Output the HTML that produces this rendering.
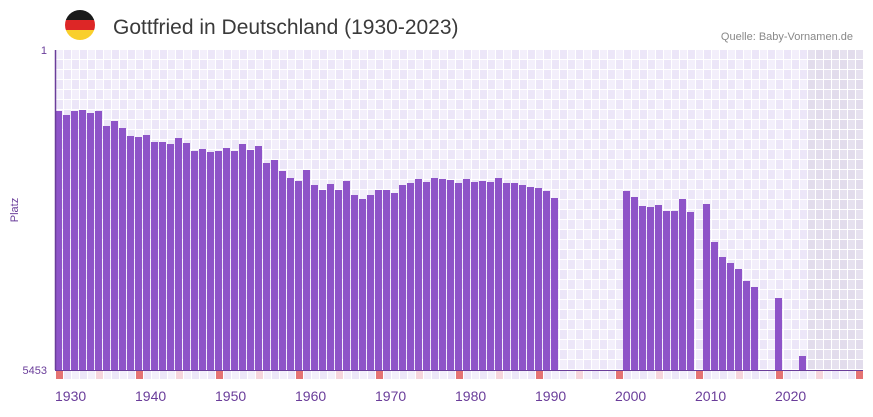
<!DOCTYPE html>
<html><head><meta charset="utf-8"><style>
body{margin:0;background:#fff;width:873px;height:412px;overflow:hidden;font-family:"Liberation Sans",sans-serif}
</style></head><body>
<svg id="s" width="873" height="412" xmlns="http://www.w3.org/2000/svg">
<defs>
<clipPath id="c"><circle cx="80" cy="25" r="15"/></clipPath>
</defs>
<g clip-path="url(#c)">
<rect x="65" y="10" width="30" height="10" fill="#1a1a1a"/>
<rect x="65" y="20" width="30" height="10" fill="#dd2626"/>
<rect x="65" y="30" width="30" height="10" fill="#f9cf2c"/>
</g>
<text x="113" y="34" font-size="21" fill="#3a3a3a">Gottfried in Deutschland (1930-2023)</text>
<text x="853" y="40" font-size="11" fill="#888" text-anchor="end">Quelle: Baby-Vornamen.de</text>
<text x="47" y="54" font-size="11" fill="#6a3d9a" text-anchor="end">1</text>
<text x="47" y="374" font-size="11" fill="#6a3d9a" text-anchor="end">5453</text>
<text x="18" y="210" font-size="11" fill="#6a3d9a" text-anchor="middle" transform="rotate(-90 18 210)">Platz</text>
<g id="g"></g>
<g id="b"></g>
<line x1="55.5" y1="50" x2="55.5" y2="370" stroke="#6a3d9a" stroke-width="1.5"/>
<line x1="55" y1="370.5" x2="863" y2="370.5" stroke="#6a3d9a" stroke-width="1"/>
<g id="t" font-size="14" fill="#6a3d9a"></g>
</svg>
<script>
var ns="http://www.w3.org/2000/svg",g=document.getElementById('g'),b=document.getElementById('b'),t=document.getElementById('t');
function r(p,x,y,w,h,f){var e=document.createElementNS(ns,'rect');e.setAttribute('x',x);e.setAttribute('y',y);e.setAttribute('width',w);e.setAttribute('height',h);e.setAttribute('fill',f);p.appendChild(e);}
for(var i=0;i<101;i++){var x=56+8*i;
 for(var j=0;j<32;j++){var y=50+10*j;var f=((i+j)%2)?'#ece6f8':'#f3effb';if(i>=94)f=((i+j)%2)?'#e2dcec':'#e6e1ef';r(g,x,y,7,9,f);}
 var m=(i%10==0)?'#e57373':(i%10==5?'#f6d5dc':(i%2?'#ece6f8':'#f3effb'));r(g,x,371,7,8,m);
}
var tops=[111,115,111,110,113,111,126,121,128,136,137,135,142,142,144,138,143,151,149,152,151,148,151,144,150,146,163,160,171,178,181,170,185,
190,184,190,181,195,199,195,190,190,193,185,183,179,182,178,179,180,183,179,182,181,182,178,183,183,185,187,188,191,198];
var more={71:191,72:197,73:206,74:207,75:205,76:211,77:211,78:199,79:212,81:204,82:242,83:257,84:263,85:269,86:281,87:287,90:298,93:356};
for(var k in more)tops[k]=more[k];
for(var i=0;i<tops.length;i++){if(tops[i])r(b,55+8*i,tops[i],7,370-tops[i],'#8e54c8');}
for(var k=0;k<10;k++){var e=document.createElementNS(ns,'text');e.setAttribute('x',55+80*k);e.setAttribute('y',401);e.textContent=1930+10*k;t.appendChild(e);}
</script>
</body></html>
